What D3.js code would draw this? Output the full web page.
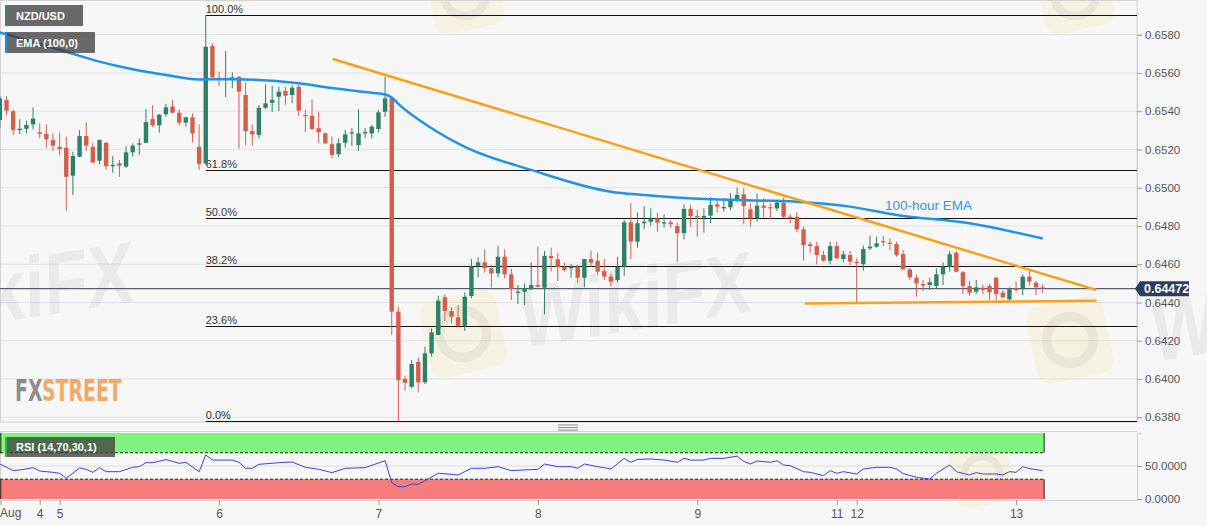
<!DOCTYPE html>
<html><head><meta charset="utf-8">
<script src="https://cdn.jsdelivr.net/npm/d3@7"></script>
<style>
html,body{margin:0;padding:0;background:#f7f7f7;overflow:hidden;}
svg{display:block;font-family:"Liberation Sans",Arial,sans-serif;}
</style></head><body>
<svg id="c" width="1207" height="526"></svg>
<script>
// ---------- DATA (hourly NZD/USD candles, index of first candle = -1) ----------
const firstIndex = -1;
const openP = [.65354,.65459,.65400,.65302,.65308,.65331,.65290,.65281,.65249,.65214,.65209,.65063,.65162,.65270,.65214,.65141,.65235,.65113,.65128,.65110,.65185,.65225,.65235,.65359,.65326,.65384,.65424,.65392,.65340,.65368,.65214,.65128,.65741,.65575,.65563,.65563,.65580,.65485,.65296,.65276,.65418,.65444,.65476,.65506,.65485,.65528,.65380,.65376,.65311,.65284,.65227,.65175,.65235,.65284,.65223,.65284,.65284,.65307,.65397,.65467,.64352,.64000,.63959,.64090,.63982,.64134,.64230,.64427,.64355,.64322,.64278,.64434,.64591,.64610,.64579,.64552,.64639,.64547,.64451,.64456,.64469,.64491,.64477,.64643,.64626,.64587,.64579,.64587,.64529,.64627,.64618,.64564,.64535,.64517,.64587,.64819,.64718,.64814,.64822,.64840,.64814,.64819,.64800,.64762,.64889,.64852,.64843,.64854,.64913,.64892,.64898,.64941,.64965,.64887,.64840,.64906,.64898,.64892,.64922,.64848,.64848,.64782,.64704,.64695,.64648,.64618,.64695,.64627,.64648,.64613,.64600,.64683,.64692,.64721,.64712,.64706,.64653,.64573,.64529,.64496,.64491,.64486,.64547,.64587,.64660,.64558,.64486,.64456,.64477,.64486,.64529,.64451,.64416,.64474,.64469,.64535,.64503,.64479];
const highP = [.65479,.65479,.65410,.65358,.65349,.65420,.65337,.65331,.65284,.65288,.65267,.65188,.65302,.65342,.65235,.65253,.65240,.65166,.65145,.65218,.65232,.65258,.65410,.65431,.65384,.65438,.65459,.65410,.65371,.65389,.65331,.65901,.65755,.65607,.65715,.65603,.65584,.65549,.65331,.65432,.65541,.65533,.65528,.65528,.65537,.65537,.65406,.65462,.65397,.65288,.65267,.65258,.65302,.65311,.65410,.65311,.65328,.65406,.65580,.65476,.64378,.64017,.64099,.64113,.64169,.64265,.64435,.64444,.64375,.64387,.64453,.64627,.64636,.64678,.64596,.64697,.64678,.64575,.64491,.64500,.64610,.64692,.64669,.64686,.64660,.64608,.64601,.64596,.64627,.64671,.64660,.64627,.64552,.64639,.64831,.64918,.64871,.64904,.64892,.64869,.64861,.64831,.64817,.64913,.64910,.64883,.64892,.64950,.64930,.64945,.64971,.65000,.64997,.64918,.64971,.64945,.64918,.64936,.64948,.64861,.64871,.64796,.64718,.64718,.64669,.64718,.64718,.64669,.64669,.64631,.64697,.64749,.64744,.64747,.64735,.64718,.64674,.64579,.64544,.64517,.64529,.64579,.64610,.64669,.64669,.64564,.64512,.64517,.64491,.64496,.64535,.64465,.64479,.64509,.64547,.64564,.64512,.64494];
const lowP = [.65311,.65380,.65276,.65279,.65284,.65305,.65258,.65206,.65192,.65171,.64880,.64962,.65159,.65193,.65128,.65124,.65093,.65078,.65057,.65105,.65162,.65171,.65232,.65316,.65288,.65371,.65389,.65326,.65319,.65237,.65093,.65119,.65572,.65532,.65473,.65520,.65204,.65223,.65220,.65258,.65410,.65397,.65401,.65432,.65441,.65376,.65290,.65302,.65235,.65228,.65154,.65159,.65209,.65218,.65192,.65258,.65258,.65288,.65371,.64230,.63778,.63939,.63951,.63930,.63974,.64116,.64230,.64303,.64291,.64268,.64251,.64422,.64531,.64556,.64479,.64531,.64526,.64413,.64392,.64387,.64465,.64479,.64338,.64561,.64512,.64561,.64529,.64503,.64479,.64587,.64544,.64517,.64486,.64505,.64540,.64627,.64686,.64782,.64800,.64770,.64791,.64791,.64610,.64730,.64796,.64744,.64765,.64814,.64871,.64875,.64883,.64924,.64809,.64796,.64822,.64843,.64835,.64878,.64843,.64814,.64767,.64618,.64657,.64599,.64613,.64599,.64626,.64610,.64596,.64399,.64566,.64674,.64686,.64695,.64674,.64639,.64570,.64517,.64430,.64460,.64465,.64474,.64491,.64561,.64558,.64444,.64435,.64444,.64443,.64413,.64408,.64422,.64408,.64456,.64439,.64488,.64439,.64449];
const closeP = [.65467,.65403,.65302,.65308,.65328,.65361,.65282,.65253,.65220,.65202,.65057,.65166,.65270,.65220,.65131,.65249,.65113,.65119,.65115,.65185,.65220,.65232,.65343,.65326,.65382,.65420,.65392,.65340,.65368,.65284,.65124,.65737,.65577,.65567,.65570,.65577,.65502,.65296,.65279,.65418,.65441,.65459,.65502,.65481,.65523,.65403,.65375,.65307,.65290,.65232,.65171,.65232,.65279,.65290,.65284,.65291,.65319,.65394,.65467,.64352,.63994,.63980,.64078,.63982,.64134,.64244,.64409,.64355,.64325,.64278,.64430,.64587,.64610,.64579,.64552,.64639,.64547,.64470,.64456,.64474,.64491,.64482,.64644,.64631,.64584,.64570,.64587,.64529,.64627,.64608,.64561,.64535,.64509,.64587,.64819,.64718,.64814,.64822,.64840,.64817,.64819,.64809,.64762,.64889,.64852,.64845,.64852,.64910,.64901,.64899,.64941,.64962,.64904,.64840,.64906,.64895,.64892,.64922,.64848,.64840,.64782,.64700,.64695,.64648,.64618,.64695,.64631,.64652,.64613,.64605,.64679,.64692,.64709,.64715,.64706,.64648,.64573,.64531,.64500,.64488,.64505,.64547,.64587,.64652,.64561,.64486,.64451,.64479,.64465,.64453,.64444,.64427,.64469,.64465,.64535,.64509,.64479,.64472];

// 100-hour EMA, read at these candle indices
const emaIndex = [-1,9,14,19,24,29,34,44,49,54,57,58,59,64,69,79,91,96,106,119,127,134,145,156];
const emaValue = [.65812,.65711,.65659,.65619,.65589,.65566,.65567,.65546,.65521,.65500,.65487,.65472,.65438,.65311,.65214,.65093,.64979,.64962,.64939,.64927,.64901,.64857,.64814,.64734];

// RSI(14) read at these candle indices
const rsiIndex = [-1,1,2,4,5,7,8,9,11,12,13,14,15,17,19,20,21,22,24,25,26,27,29,30,31,34,35,36,37,38,41,43,45,47,49,51,54,57,58,59,60,61,62,65,68,70,72,74,76,78,80,81,83,85,86,87,89,91,93,94,95,97,99,101,102,103,105,106,108,110,111,112,113,115,116,117,118,120,121,123,124,125,126,128,129,131,133,134,135,137,139,140,142,143,145,146,147,149,150,151,152,153,154,156];
const rsiValue = [53,43,44,47.5,42.4,40.4,38.9,31.3,47,45,40.4,47.5,41.4,41.4,48,49,55,55,59.6,57,54,55.6,41.4,66.7,59,59,55.6,46.5,46.5,52.5,55,56,48,45,40,46.5,47.5,58,24.7,18.7,18.7,22.7,22.2,38.9,36.4,46.5,46.5,49,43,44,45,53,49,49,46.5,53,49,45.5,61.6,55.6,60,60.6,59,55.6,61.6,59,59,61.6,61.6,65,57,53,57.6,55.6,58,51.5,50.5,41.4,40.4,35.4,43,38.9,41.4,37.9,45.5,48,48,45.5,38.5,32.8,30.3,38.9,51.5,41.4,36.4,40,37.9,37.9,36.4,41.4,40.4,49,46,43];

// Trend lines [index, price]
const resistanceLine = [[49.1, .65673], [164.1, .64465]];
const supportLine = [[120.2, .64394], [164.1, .64409]];

// Fibonacci retracement
const fibStartIndex = 30;
const fibRatios = [1, 0.618, 0.5, 0.382, 0.236, 0];
const fibLabels = ["100.0%", "61.8%", "50.0%", "38.2%", "23.6%", "0.0%"];

// Axis ticks
const priceTicks = [0.638, 0.640, 0.642, 0.644, 0.646, 0.648, 0.650, 0.652, 0.654, 0.656, 0.658];
const rsiTicks = [0, 50];
const dayTickIndex = [5, 8, 32, 56, 80, 104, 125, 128, 152];
const dayTickLabel = ["4", "5", "6", "7", "8", "9", "11", "12", "13"];
const monthLabel = "Aug";

// ---------- DRAWING ----------
const svg = d3.select("#c");
const plotR = 1137, mainTop = 1, mainBot = 422, rsiTop = 432, rsiBot = 500;
const GREEN = "#2f8068", RED = "#d35f4b";

const x = d3.scaleLinear().domain([0, 156]).range([6.5, 1042.65]);
const y = d3.scaleLinear().domain([0.638, 0.658]).range([417.2, 34.7]);
const yr = d3.scaleLinear().domain([0, 100]).range([499, 433]);

svg.append("rect").attr("width", 1207).attr("height", 526).attr("fill", "#f7f7f7");

const defs = svg.append("defs");
defs.append("clipPath").attr("id", "mainClip").append("rect")
  .attr("x", 0).attr("y", mainTop).attr("width", plotR).attr("height", mainBot - mainTop);
defs.append("clipPath").attr("id", "rsiClip").append("rect")
  .attr("x", 0).attr("y", rsiTop).attr("width", plotR).attr("height", rsiBot - rsiTop);

// grid
svg.append("g").selectAll("line").data(priceTicks).join("line")
  .attr("x1", 0).attr("x2", plotR).attr("y1", d => y(d)).attr("y2", d => y(d))
  .attr("stroke", "#e1e1e1").attr("stroke-width", 1);

// watermarks
const wm = svg.append("g").attr("pointer-events", "none");
function logo(cx, cy, s) {
  const g = wm.append("g").attr("transform", `translate(${cx},${cy}) rotate(-12)`);
  g.append("rect").attr("x", -s/2).attr("y", -s/2).attr("width", s).attr("height", s).attr("rx", s*0.18)
    .attr("fill", "rgba(245,215,120,0.16)");
  g.append("circle").attr("r", s*0.3).attr("fill", "none").attr("stroke", "rgba(120,120,120,0.10)").attr("stroke-width", s*0.12);
}
logo(463, 334, 78); logo(1070, 340, 78); logo(465, -5, 70); logo(1075, -5, 70); logo(982, 475, 60);
function wmText(x0, y0, len) {
  wm.append("text").attr("transform", `translate(${x0},${y0}) rotate(-9) skewX(-8)`)
    .attr("font-size", 86).attr("font-weight", "bold").attr("fill", "rgba(90,90,90,0.08)")
    .attr("textLength", len).attr("lengthAdjust", "spacingAndGlyphs").text("WikiFX");
}
wmText(520, 348, 235); wmText(-98, 338, 235); wmText(1152, 362, 235);

// FXSTREET logo (condensed, vertically stretched)
const fxFont = "'DejaVu Sans Condensed','Liberation Sans Narrow',sans-serif";
svg.append("text").attr("transform", "translate(15,401) scale(1,1.45)").attr("font-family", fxFont)
  .attr("font-weight", "bold").attr("font-size", 21).attr("fill", "#8d8d8d").text("FX");
svg.append("text").attr("transform", "translate(42,401) scale(1,1.45)").attr("font-family", fxFont)
  .attr("font-weight", "bold").attr("font-size", 21).attr("fill", "#eeaa66").text("STREET");

// panel frame
svg.append("rect").attr("x", 0.5).attr("y", 0.5).attr("width", plotR - 0.5).attr("height", mainBot - 0.5)
  .attr("fill", "none").attr("stroke", "#d2d2d2");

// Fibonacci
const fibHigh = d3.max(highP), fibLow = d3.min(lowP);
const fibG = svg.append("g");
fibRatios.forEach((r, i) => {
  const v = fibLow + r * (fibHigh - fibLow);
  const yy = Math.round(y(v)) + 0.5;
  fibG.append("line").attr("x1", x(fibStartIndex)).attr("x2", plotR).attr("y1", yy).attr("y2", yy)
    .attr("stroke", "#111").attr("stroke-width", 1.2);
  fibG.append("text").attr("x", x(fibStartIndex)).attr("y", yy - 3).attr("font-size", 11).attr("fill", "#333").text(fibLabels[i]);
});

// current price line
const lastClose = closeP[closeP.length - 1];
svg.append("line").attr("x1", 0).attr("x2", plotR).attr("y1", y(lastClose)).attr("y2", y(lastClose))
  .attr("stroke", "#2c3f60").attr("stroke-width", 1);

const main = svg.append("g").attr("clip-path", "url(#mainClip)");

// candles
const candles = openP.map((o, i) => ({ k: i + firstIndex, o, h: highP[i], l: lowP[i], c: closeP[i] }));
const cg = main.append("g");
cg.selectAll("line").data(candles).join("line")
  .attr("x1", d => x(d.k)).attr("x2", d => x(d.k)).attr("y1", d => y(d.h)).attr("y2", d => y(d.l))
  .attr("stroke", d => d.c >= d.o ? GREEN : RED).attr("stroke-width", 1);
cg.selectAll("rect").data(candles).join("rect")
  .attr("x", d => x(d.k) - 2.2).attr("width", 4.4)
  .attr("y", d => y(Math.max(d.o, d.c)))
  .attr("height", d => Math.max(1.2, Math.abs(y(d.o) - y(d.c))))
  .attr("fill", d => d.c >= d.o ? GREEN : RED);

// EMA
const emaPts = emaIndex.map((k, i) => [k, emaValue[i]]);
main.append("path").datum(emaPts)
  .attr("d", d3.line().x(d => x(d[0])).y(d => y(d[1])).curve(d3.curveMonotoneX))
  .attr("fill", "none").attr("stroke", "#2193e6").attr("stroke-width", 2.5);

// trend lines
[resistanceLine, supportLine].forEach(L => {
  main.append("path").datum(L).attr("d", d3.line().x(d => x(d[0])).y(d => y(d[1])))
    .attr("fill", "none").attr("stroke", "#f5a21c").attr("stroke-width", 2.5);
});

// EMA annotation
svg.append("text").attr("x", 885).attr("y", 210).attr("font-size", 13.5).attr("fill", "#2a9be0").text("100-hour EMA");

// legends
function legend(x0, y0, w, h, bar, label) {
  svg.append("rect").attr("x", x0).attr("y", y0).attr("width", w).attr("height", h).attr("fill", "rgba(60,60,60,0.76)");
  svg.append("rect").attr("x", x0).attr("y", y0).attr("width", 2).attr("height", h).attr("fill", bar);
  svg.append("text").attr("x", x0 + 11).attr("y", y0 + h / 2 + 4).attr("font-size", 11).attr("font-weight", "bold")
    .attr("fill", "#fff").text(label);
}
legend(5, 5, 78, 21, "#2e8a6c", "NZD/USD");
legend(5, 32, 90, 21, "#1e8ae6", "EMA (100,0)");

// right price axis
const yAxis = svg.append("g").attr("transform", `translate(${plotR},0)`)
  .call(d3.axisRight(y).tickValues(priceTicks).tickSize(5).tickPadding(3).tickFormat(d3.format(".4f")));
yAxis.select(".domain").attr("stroke", "#cfcfcf");
yAxis.selectAll(".tick line").attr("stroke", "#999");
yAxis.selectAll("text").attr("fill", "#555").attr("font-size", 11.5).attr("font-family", "'Liberation Sans',Arial,sans-serif");

// price tag
const py = y(lastClose);
svg.append("path").attr("d", `M1135,${py} L1140,${py - 7.5} L1189,${py - 7.5} L1189,${py + 7.5} L1140,${py + 7.5} Z`)
  .attr("fill", "#2b3e5c");
svg.append("text").attr("x", 1144).attr("y", py + 4.5).attr("font-size", 12.5).attr("font-weight", "bold")
  .attr("fill", "#fff").text(d3.format(".5f")(lastClose));

// panel divider handle
[425, 427.5, 430].forEach(hy => svg.append("line").attr("x1", 558).attr("x2", 578).attr("y1", hy).attr("y2", hy)
  .attr("stroke", "#8a8a8a").attr("stroke-width", 1));

// RSI panel
svg.append("line").attr("x1", 0).attr("x2", plotR).attr("y1", rsiTop - 0.5).attr("y2", rsiTop - 0.5).attr("stroke", "#d2d2d2");
svg.append("line").attr("x1", 0).attr("x2", plotR).attr("y1", rsiBot + 0.5).attr("y2", rsiBot + 0.5).attr("stroke", "#d2d2d2");
svg.append("line").attr("x1", 0.5).attr("x2", 0.5).attr("y1", rsiTop).attr("y2", rsiBot).attr("stroke", "#d2d2d2");
const bandR = x(156) + 1.5;
svg.append("rect").attr("x", 0).attr("y", yr(100)).attr("width", bandR).attr("height", yr(70) - yr(100)).attr("fill", "#80f47e");
svg.append("rect").attr("x", 0).attr("y", yr(30)).attr("width", bandR).attr("height", yr(0) - yr(30)).attr("fill", "#f77d7d");
[[100, 70], [30, 0]].forEach(([a, b]) => {
  [0.8, bandR].forEach(xx => svg.append("line").attr("x1", xx).attr("x2", xx).attr("y1", yr(a)).attr("y2", yr(b))
    .attr("stroke", "#222").attr("stroke-width", 1));
});
[70, 30].forEach(v => svg.append("line").attr("x1", 0).attr("x2", bandR).attr("y1", yr(v)).attr("y2", yr(v))
  .attr("stroke", "#222").attr("stroke-width", 1).attr("stroke-dasharray", "3,2"));
svg.append("line").attr("x1", 0).attr("x2", plotR).attr("y1", yr(50)).attr("y2", yr(50)).attr("stroke", "#dcdcdc");

const rsiPts = rsiIndex.map((k, i) => [k, rsiValue[i]]);
svg.append("g").attr("clip-path", "url(#rsiClip)").append("path").datum(rsiPts)
  .attr("d", d3.line().x(d => x(d[0])).y(d => yr(d[1])))
  .attr("fill", "none").attr("stroke", "#3446d4").attr("stroke-width", 1);

legend(5, 437, 110, 20, "#3cb043", "RSI (14,70,30,1)");

const rAxis = svg.append("g").attr("transform", `translate(${plotR},0)`)
  .call(d3.axisRight(yr).tickValues(rsiTicks).tickSize(5).tickPadding(3).tickFormat(d3.format(".4f")));
rAxis.select(".domain").attr("stroke", "#cfcfcf");
rAxis.selectAll(".tick line").attr("stroke", "#999");
rAxis.selectAll("text").attr("fill", "#555").attr("font-size", 11.5).attr("font-family", "'Liberation Sans',Arial,sans-serif");

// bottom time axis
const xAxis = svg.append("g").attr("transform", `translate(0,${rsiBot})`)
  .call(d3.axisBottom(x).tickValues(dayTickIndex).tickSize(5).tickPadding(4)
    .tickFormat((d, i) => dayTickLabel[i]));
xAxis.select(".domain").remove();
xAxis.selectAll(".tick line").attr("stroke", "#999");
xAxis.selectAll("text").attr("fill", "#555").attr("font-size", 12).attr("font-family", "'Liberation Sans',Arial,sans-serif");
svg.append("line").attr("x1", 1).attr("x2", 1).attr("y1", rsiBot).attr("y2", rsiBot + 5).attr("stroke", "#999");
svg.append("text").attr("x", 0).attr("y", 517).attr("font-size", 12).attr("fill", "#555").text(monthLabel);
</script>
</body></html>
